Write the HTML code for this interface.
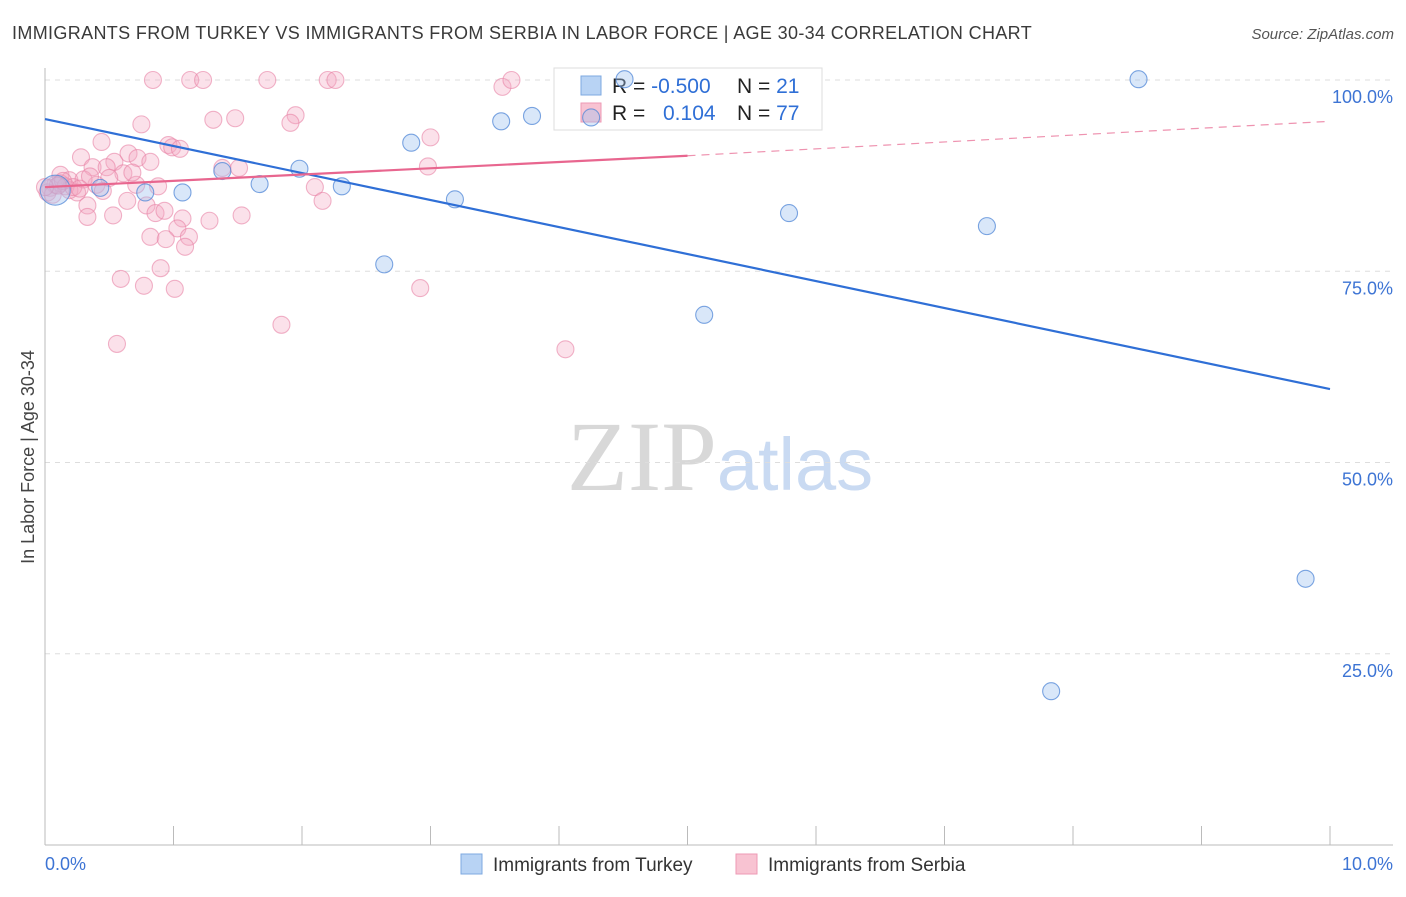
<!DOCTYPE html>
<html><head><meta charset="utf-8">
<style>
body{margin:0;background:#fff;font-family:"Liberation Sans",sans-serif;}
svg text{font-family:"Liberation Sans",sans-serif;}
</style></head>
<body>
<svg id="chart" width="1406" height="892" xmlns="http://www.w3.org/2000/svg">
<text x="12" y="39" font-size="18" letter-spacing="0.35" fill="#3a3a3a">IMMIGRANTS FROM TURKEY VS IMMIGRANTS FROM SERBIA IN LABOR FORCE | AGE 30-34 CORRELATION CHART</text>
<text x="1394" y="39" font-size="15" fill="#555" text-anchor="end" font-style="italic">Source: ZipAtlas.com</text>
<text x="720" y="490" font-size="100" text-anchor="middle"><tspan fill="#d8d8d8" font-family="Liberation Serif">ZIP</tspan><tspan fill="#c9daf2" font-size="74">atlas</tspan></text>
<text transform="translate(34,457) rotate(-90)" font-size="18" fill="#444" text-anchor="middle">In Labor Force | Age 30-34</text>
<g id="grid"></g>
<g id="axes"></g>
<g>
<rect x="554" y="68" width="268" height="62" fill="#fff" stroke="#ddd"/>
<rect x="581" y="76" width="20" height="19" fill="#b8d3f4" stroke="#7ea8e0"/>
<rect x="581" y="103" width="20" height="19" fill="#f8c3d2" stroke="#ee9ab4"/>
<text x="612" y="93" font-size="21" fill="#222">R = <tspan fill="#2f6fd6">-0.500</tspan></text>
<text x="737" y="93" font-size="21" fill="#222">N = <tspan fill="#2f6fd6"> 21</tspan></text>
<text x="612" y="120" font-size="21" fill="#222">R = </text>
<text x="663" y="120" font-size="21" fill="#2f6fd6">0.104</text>
<text x="737" y="120" font-size="21" fill="#222">N = <tspan fill="#2f6fd6">77</tspan></text>
</g>
<g id="pink-pts"></g>
<g id="blue-pts"></g>
<g id="lines"></g>
<g>
<rect x="461" y="854" width="21" height="20" fill="#b8d3f4" stroke="#7ea8e0"/>
<text x="493" y="871" font-size="19" fill="#333">Immigrants from Turkey</text>
<rect x="736" y="854" width="21" height="20" fill="#f8c3d2" stroke="#ee9ab4"/>
<text x="768" y="871" font-size="19" fill="#333">Immigrants from Serbia</text>
</g>
</svg>
<script>
const yTicks=[25,50,75,100];
const yTickLabels=["25.0%","50.0%","75.0%","100.0%"];
const xTickLabels=["0.0%","10.0%"];
const blueX=[0.08,0.43,0.78,1.07,1.38,1.67,1.98,2.31,2.64,2.85,3.19,3.55,3.79,4.25,4.51,5.13,5.79,7.33,7.83,8.51,9.81];
const blueY=[85.6,85.9,85.3,85.3,88.1,86.4,88.4,86.1,75.9,91.8,84.4,94.6,95.3,95.1,100.1,69.3,82.6,80.9,20.1,100.1,34.8];
const pinkX=[0.84,1.13,1.23,1.73,2.20,2.26,3.56,3.63,1.31,1.48,1.95,1.91,0.75,0.44,0.96,0.99,1.05,3.00,2.98,0.28,0.37,0.65,0.72,0.54,0.82,0.61,0.48,0.71,0.88,1.38,1.51,2.10,2.16,0.12,0.19,0.25,0.33,0.33,0.53,0.64,0.79,0.86,0.93,1.07,1.03,1.12,1.09,0.82,0.94,1.28,1.53,0.90,0.59,0.77,1.01,2.92,1.84,0.56,4.05,0.04,0.08,0.12,0.16,0.19,0.02,0.40,0.30,0.06,0.14,0.22,0.10,0.35,0.27,0.50,0.45,0.68,0.00];
const pinkY=[100,100,100,100,100,100,99.1,100,94.8,95.0,95.4,94.4,94.2,91.9,91.5,91.2,91.0,92.5,88.7,89.9,88.6,90.4,89.8,89.3,89.3,87.8,88.6,86.3,86.1,88.5,88.5,86.0,84.2,87.6,86.9,85.3,83.6,82.1,82.3,84.2,83.6,82.6,82.9,81.9,80.6,79.5,78.2,79.5,79.2,81.6,82.3,75.4,74.0,73.1,72.7,72.8,68.0,65.5,64.8,85.9,86.3,86.5,86.1,85.6,85.3,86.3,87.0,85.0,86.8,86.0,86.2,87.4,85.8,87.2,85.5,87.9,86.0];
const blueTrend=[94.9,59.6];
const pinkTrend=[86.0,90.1,94.6];
const trendX=[0,5,10];
const NS="http://www.w3.org/2000/svg";
function sx(v){return 45+v/10*1285;}
function sy(v){return 845-v*7.65;}
function mk(tag,parent,attrs){const e=document.createElementNS(NS,tag);for(const k in attrs)e.setAttribute(k,attrs[k]);parent.appendChild(e);return e;}
const grid=document.getElementById('grid');
yTicks.forEach((t,i)=>{
 const l=mk('line',grid,{x1:45,x2:1393,y1:sy(t),y2:sy(t),stroke:'#ddd','stroke-dasharray':'5,5'});
 
 
 const tx=mk('text',grid,{x:1393,y:sy(t)+23,'font-size':18,fill:'#3d74d4','text-anchor':'end'});
 tx.textContent=yTickLabels[i];
 
 
});
const axes=document.getElementById('axes');
let a=mk('line',axes,{x1:45,x2:45,y1:68,y2:845,stroke:'#bbb'});


a=mk('line',axes,{x1:45,x2:1393,y1:845,y2:845,stroke:'#bbb'});


for(let i=0;i<=10;i++){
 const t=mk('line',axes,{x1:sx(i),x2:sx(i),y1:826,y2:845,stroke:'#bbb'});
 
 
}
[[0,'start',xTickLabels[0]],[10,'end',xTickLabels[1]]].forEach(d=>{
 const tx=mk('text',axes,{x:d[0]===0?45:1393,y:870,'font-size':18,fill:'#3d74d4','text-anchor':d[1]});
 tx.textContent=d[2];
 
 
});
const pg=document.getElementById('pink-pts');
pinkX.forEach((x,i)=>{
 const c=mk('circle',pg,{cx:sx(x),cy:sy(pinkY[i]),r:8.5,fill:'rgba(244,170,195,0.35)',stroke:'rgba(232,130,165,0.6)','stroke-width':1.1});
 
 
});
const bg=document.getElementById('blue-pts');
blueX.forEach((x,i)=>{
 const c=mk('circle',bg,{cx:sx(x),cy:sy(blueY[i]),r:i===0?15:8.5,fill:'rgba(160,195,240,0.4)',stroke:'rgba(80,135,215,0.75)','stroke-width':1.1});
 
 
});
const lg=document.getElementById('lines');
let ln=mk('line',lg,{x1:sx(trendX[0]),y1:sy(blueTrend[0]),x2:sx(trendX[2]),y2:sy(blueTrend[1]),stroke:'#2f6fd6','stroke-width':2.2});


ln=mk('line',lg,{x1:sx(trendX[0]),y1:sy(pinkTrend[0]),x2:sx(trendX[1]),y2:sy(pinkTrend[1]),stroke:'#e8668f','stroke-width':2.2});


ln=mk('line',lg,{x1:sx(trendX[1]),y1:sy(pinkTrend[1]),x2:sx(trendX[2]),y2:sy(pinkTrend[2]),stroke:'#e8668f','stroke-width':1.2,'stroke-dasharray':'8,6',opacity:0.7});


</script>
</body></html>
